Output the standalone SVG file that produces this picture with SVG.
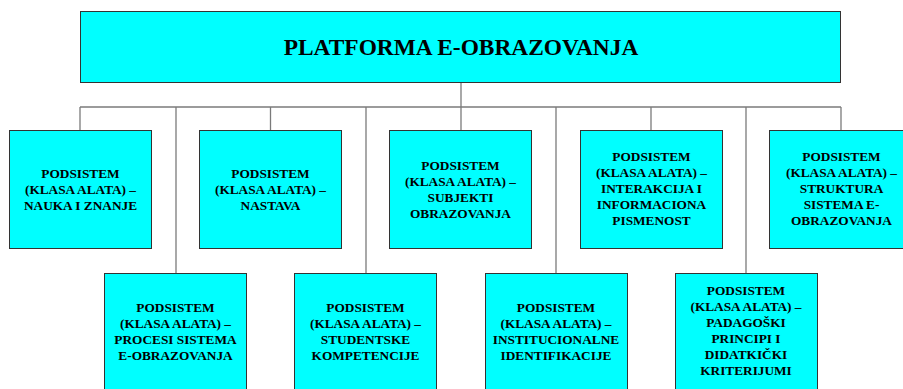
<svg xmlns="http://www.w3.org/2000/svg" width="903" height="389" viewBox="0 0 903 389">
<style>
.box{fill:#00FFFF;stroke:#333333;stroke-width:1}
.t{font-family:"Liberation Serif","Times New Roman",serif;font-weight:bold;font-size:13.3px;text-anchor:middle;fill:#000}
.title{font-family:"Liberation Serif","Times New Roman",serif;font-weight:bold;font-size:23.4px;text-anchor:middle;fill:#000}
.c{fill:none;stroke:#7a7a7a;stroke-width:1.3}
</style>
<rect width="903" height="389" fill="#ffffff"/>
<g id="connectors">
<line class="c" x1="461" y1="82" x2="461" y2="107"/>
<line class="c" x1="80" y1="107" x2="841" y2="107"/>
<line class="c" x1="80" y1="107" x2="80" y2="130"/>
<line class="c" x1="270.5" y1="107" x2="270.5" y2="130"/>
<line class="c" x1="461" y1="107" x2="461" y2="130"/>
<line class="c" x1="651" y1="107" x2="651" y2="130"/>
<line class="c" x1="841" y1="107" x2="841" y2="130"/>
<line class="c" x1="176" y1="107" x2="176" y2="273"/>
<line class="c" x1="366" y1="107" x2="366" y2="273"/>
<line class="c" x1="556" y1="107" x2="556" y2="273"/>
<line class="c" x1="746" y1="107" x2="746" y2="273"/>
</g>
<g id="root">
<rect class="box" x="80.5" y="11.5" width="760" height="71"/>
<text class="title" x="461" y="55">PLATFORMA E-OBRAZOVANJA</text>
</g>
<g id="n1">
<rect class="box" x="9.5" y="130.5" width="142" height="118"/>
<text class="t" x="80.5"><tspan x="80.5" y="178">PODSISTEM</tspan><tspan x="80.5" y="194">(KLASA ALATA) –</tspan><tspan x="80.5" y="210">NAUKA I ZNANJE</tspan></text>
</g>
<g id="n2">
<rect class="box" x="199.5" y="130.5" width="142" height="118"/>
<text class="t"><tspan x="270.5" y="178">PODSISTEM</tspan><tspan x="270.5" y="194">(KLASA ALATA) –</tspan><tspan x="270.5" y="210">NASTAVA</tspan></text>
</g>
<g id="n3">
<rect class="box" x="389.5" y="130.5" width="142" height="118"/>
<text class="t"><tspan x="460.5" y="170">PODSISTEM</tspan><tspan x="460.5" y="186">(KLASA ALATA) –</tspan><tspan x="460.5" y="202">SUBJEKTI</tspan><tspan x="460.5" y="218">OBRAZOVANJA</tspan></text>
</g>
<g id="n4">
<rect class="box" x="580.5" y="130.5" width="142" height="118"/>
<text class="t"><tspan x="651.5" y="161">PODSISTEM</tspan><tspan x="651.5" y="177">(KLASA ALATA) –</tspan><tspan x="651.5" y="193">INTERAKCIJA I</tspan><tspan x="651.5" y="209">INFORMACIONA</tspan><tspan x="651.5" y="225">PISMENOST</tspan></text>
</g>
<g id="n5">
<rect class="box" x="769.5" y="130.5" width="143" height="118"/>
<text class="t"><tspan x="841.5" y="161">PODSISTEM</tspan><tspan x="841.5" y="177">(KLASA ALATA) –</tspan><tspan x="841.5" y="193">STRUKTURA</tspan><tspan x="841.5" y="209">SISTEMA E-</tspan><tspan x="841.5" y="225">OBRAZOVANJA</tspan></text>
</g>
<g id="n6">
<rect class="box" x="104.5" y="273.5" width="142" height="120"/>
<text class="t"><tspan x="175.5" y="312">PODSISTEM</tspan><tspan x="175.5" y="328">(KLASA ALATA) –</tspan><tspan x="175.5" y="344">PROCESI SISTEMA</tspan><tspan x="175.5" y="360">E-OBRAZOVANJA</tspan></text>
</g>
<g id="n7">
<rect class="box" x="294.5" y="273.5" width="142" height="120"/>
<text class="t"><tspan x="365.5" y="312">PODSISTEM</tspan><tspan x="365.5" y="328">(KLASA ALATA) –</tspan><tspan x="365.5" y="344">STUDENTSKE</tspan><tspan x="365.5" y="360">KOMPETENCIJE</tspan></text>
</g>
<g id="n8">
<rect class="box" x="485.5" y="273.5" width="142" height="120"/>
<text class="t"><tspan x="556" y="312">PODSISTEM</tspan><tspan x="556" y="328">(KLASA ALATA) –</tspan><tspan x="556" y="344">INSTITUCIONALNE</tspan><tspan x="556" y="360">IDENTIFIKACIJE</tspan></text>
</g>
<g id="n9">
<rect class="box" x="675.5" y="273.5" width="142" height="120"/>
<text class="t"><tspan x="746" y="295">PODSISTEM</tspan><tspan x="746" y="311">(KLASA ALATA) –</tspan><tspan x="746" y="327">PADAGOŠKI</tspan><tspan x="746" y="343">PRINCIPI I</tspan><tspan x="746" y="359">DIDATKIČKI</tspan><tspan x="746" y="375">KRITERIJUMI</tspan></text>
</g>
</svg>
